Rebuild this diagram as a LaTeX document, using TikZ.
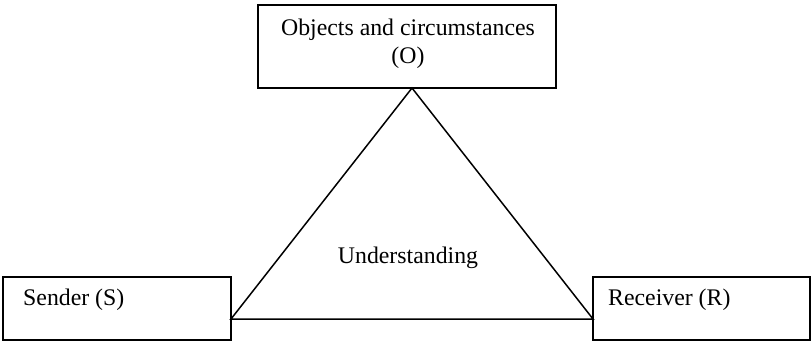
\documentclass[tikz,border=0pt]{standalone}
\usepackage{fontspec}
\setmainfont{Liberation Serif}
\begin{document}
\begin{tikzpicture}[x=1pt,y=-1pt,
  boxstyle/.style={draw,line width=1.5pt,inner sep=0pt,outer sep=0pt},
  lbl/.style={font=\fontsize{23.8}{28}\selectfont,inner sep=0pt},
  edge/.style={line width=1.5pt}]
\useasboundingbox (0,0) rectangle (811,341);
\fill[white] (0,0) rectangle (811,341);
% boxes
\draw[boxstyle] (258,5) rectangle (556,88);
\draw[boxstyle] (3,277) rectangle (231,340);
\draw[boxstyle] (593,277) rectangle (810,340);
\node[lbl,align=center] (otext) at (408,44) {Objects and circumstances\\(O)};
\node[lbl,anchor=west] (stext) at (23,300) {Sender (S)};
\node[lbl,anchor=west] (rtext) at (608,300) {Receiver (R)};
\node[lbl] (u) at (408,258) {Understanding};
\coordinate (O) at (412,88);
\coordinate (S) at (231,319);
\coordinate (R) at (593,319);
\draw[edge,line join=miter] (S) -- (O) -- (R) -- cycle;
\end{tikzpicture}
\end{document}
